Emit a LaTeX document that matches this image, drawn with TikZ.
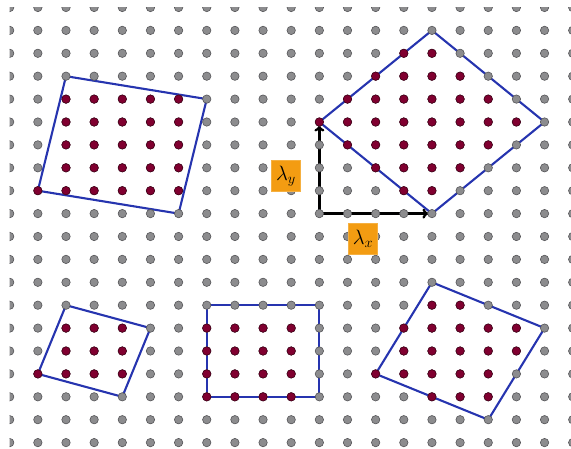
\documentclass[tikz,border=0pt]{standalone}
\usetikzlibrary{arrows.meta}
\definecolor{dotgray}{RGB}{140,140,142}
\definecolor{dotedge}{RGB}{85,85,88}
\definecolor{dotred}{RGB}{128,0,48}
\definecolor{rededge}{RGB}{70,0,25}
\definecolor{cellblue}{RGB}{38,52,175}
\definecolor{lblorange}{RGB}{243,156,18}
\tikzset{
  gdot/.style={circle,fill=dotgray,draw=dotedge,line width=0.6pt,minimum size=8.4pt,inner sep=0pt},
  rdot/.style={circle,fill=dotred,draw=rededge,line width=0.6pt,minimum size=8.4pt,inner sep=0pt},
  cell/.style={draw=cellblue,line width=2.1pt,line join=round},
  vecarrow/.style={draw=black,line width=2.3pt,-{To[length=6pt,width=10pt]},shorten >=3.5pt},
  lbl/.style={fill=lblorange,draw=lblorange!80!white,line width=0.5pt,minimum width=29pt,minimum height=31pt,inner sep=0pt,font=\huge}
}
\begin{document}
\begin{tikzpicture}[x=1pt,y=1pt]
\useasboundingbox (0,0) rectangle (571,448);
\begin{scope}[shift={(9.7pt,440.5pt)},x=28.15pt,y=-22.9pt]
  \clip (0,0) rectangle (20.5,19.2);
  % lattice coordinates
  \foreach \i in {0,...,20}{
    \foreach \j in {0,...,19}{
      \coordinate (c-\i-\j) at (\i,\j);
    }
  }
  % cells
  \draw[cell] (c-2-3) -- (c-7-4) -- (c-6-9) -- (c-1-8) -- cycle;
  \draw[cell] (c-11-5) -- (c-15-1) -- (c-19-5) -- (c-15-9) -- cycle;
  \draw[cell] (c-2-13) -- (c-5-14) -- (c-4-17) -- (c-1-16) -- cycle;
  \draw[cell] (c-7-13) -- (c-11-13) -- (c-11-17) -- (c-7-17) -- cycle;
  \draw[cell] (c-15-12) -- (c-19-14) -- (c-17-18) -- (c-13-16) -- cycle;
  % basis vectors
  \draw[vecarrow] (c-11-9) -- (c-15-9);
  \draw[vecarrow] (c-11-9) -- (c-11-5);
  % gray dots
  \foreach \i in {0,...,20}{
    \foreach \j in {0,...,19}{
      \node[gdot] (p-\i-\j) at (c-\i-\j) {};
    }
  }
  % red dots: row / first column / last column
  \foreach \j/\a/\b in {
      4/2/6, 5/2/6, 6/2/6, 7/2/6, 8/1/6,
      2/14/15, 3/13/16, 4/12/17, 5/11/18, 6/12/17, 7/13/16, 8/14/15,
      14/2/4, 15/2/4, 16/1/4,
      14/7/10, 15/7/10, 16/7/10, 17/7/10,
      13/15/16, 14/14/18, 15/14/18, 16/13/17, 17/15/17}{
    \foreach \i in {\a,...,\b}{
      \node[rdot] (r-\i-\j) at (c-\i-\j) {};
    }
  }
\end{scope}
\node[lbl] (ly) at (286,272) {$\lambda_y$};
\node[lbl] (lx) at (363,209) {$\lambda_x$};
\end{tikzpicture}
\end{document}
